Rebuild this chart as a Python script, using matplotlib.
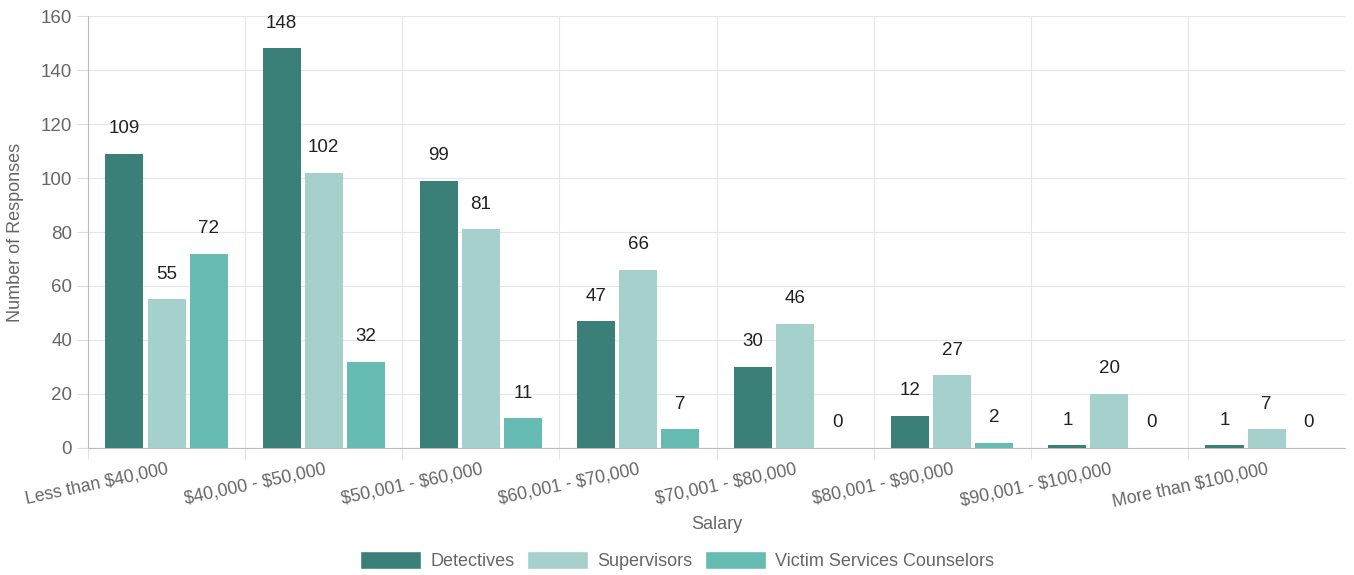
import numpy as np
import matplotlib.pyplot as plt
from matplotlib.patches import Patch

categories = ['Less than $40,000', '$40,000 - $50,000', '$50,001 - $60,000',
              '$60,001 - $70,000', '$70,001 - $80,000', '$80,001 - $90,000',
              '$90,001 - $100,000', 'More than $100,000']
detectives = [109, 148, 99, 47, 30, 12, 1, 1]
supervisors = [55, 102, 81, 66, 46, 27, 20, 7]
counselors = [72, 32, 11, 7, 0, 2, 0, 0]
series_names = ['Detectives', 'Supervisors', 'Victim Services Counselors']
colors = ['#3a7f78', '#a5d0cc', '#66bbb3']

plt.rcParams['font.family'] = ['Liberation Sans', 'DejaVu Sans']
plt.rcParams['text.parse_math'] = False

fs = 13
fig = plt.figure(figsize=(13.54, 5.75), dpi=100)
ax = fig.add_axes([0.065, 0.221, 0.9285, 0.751])

x = np.arange(len(categories))
step = 0.268
width = 0.242
for i, (vals, col) in enumerate(zip([detectives, supervisors, counselors], colors)):
    pos = x + (i - 1) * step
    ax.bar(pos, vals, width=width, color=col, zorder=3)
    for p, v in zip(pos, vals):
        ax.annotate(str(v), (p, v), xytext=(0, 18), textcoords='offset points',
                    ha='center', va='center', fontsize=13.5, color='#222222')

ax.set_xlim(-0.5, len(categories) - 0.5)
ax.set_ylim(0, 160)
ax.set_yticks(range(0, 161, 20))
ax.set_xticks(x - 0.5, minor=True)
ax.set_xticks(x)
ax.set_xticklabels(categories, rotation=12, ha='right', rotation_mode='anchor',
                   fontsize=12.7, color='#666666')
ax.tick_params(axis='x', which='major', length=0, pad=9)
ax.tick_params(axis='x', which='minor', length=8, color='#dddddd')
ax.tick_params(axis='y', length=8, color='#dddddd', labelsize=13.5, labelcolor='#666666')
ax.grid(True, axis='y', color='#e6e6e6', zorder=0)
ax.grid(True, axis='x', which='minor', color='#e6e6e6', zorder=0)
for s in ['top', 'right']:
    ax.spines[s].set_visible(False)
ax.spines['left'].set_color('#bbbbbb')
ax.spines['bottom'].set_color('#bbbbbb')

ax.set_xlabel('Salary', fontsize=fs, color='#666666', labelpad=4)
ax.set_ylabel('Number of Responses', fontsize=fs, color='#666666', labelpad=12)

handles = [Patch(facecolor=c, edgecolor='#ffffff') for c in colors]
fig.legend(handles, series_names, loc='center', bbox_to_anchor=(0.5, 0.025),
           ncol=3, frameon=False, fontsize=fs, handlelength=3.4, handleheight=1.2,
           columnspacing=0.7, handletextpad=0.5, labelcolor='#666666')

fig.savefig('out.png', dpi=100)
